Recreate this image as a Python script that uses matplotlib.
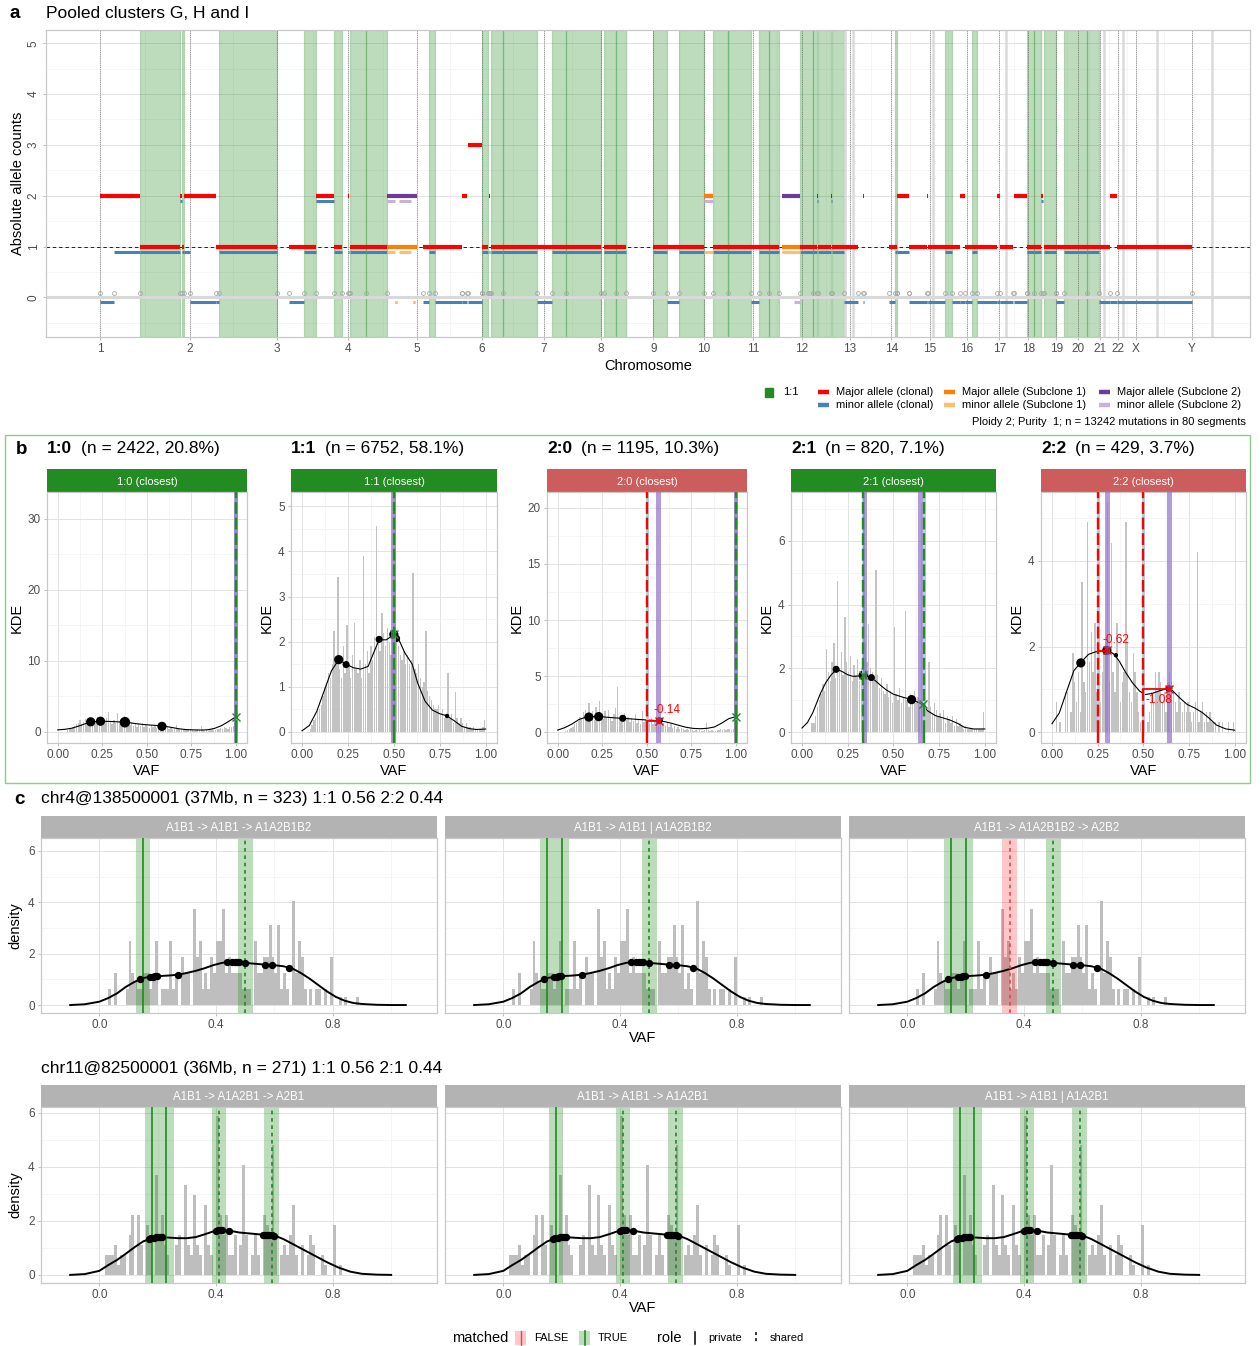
import numpy as np
import matplotlib
matplotlib.use("Agg")
import matplotlib.pyplot as plt
from matplotlib.patches import Rectangle

plt.rcParams["font.family"] = ["Liberation Sans", "DejaVu Sans"]

# ======================= data =======================
# --- panel a: genome-wide copy number (positions in Mb) ---
chrom_names = ["1", "2", "3", "4", "5", "6", "7", "8", "9", "10", "11", "12",
               "13", "14", "15", "16", "17", "18", "19", "20", "21", "22", "X", "Y"]
chrom_len = [249, 243, 198, 191, 181, 171, 159, 146, 141, 136, 135, 134,
             115, 107, 103, 90, 81, 78, 59, 63, 48, 51, 155, 59]

seg_start = [0, 40, 110, 223, 228, 234, 249, 322, 332, 525, 567, 600, 649, 690, 694, 740,
             899, 914, 930, 1006, 1022, 1062, 1080, 1086, 1119, 1215, 1257, 1295, 1401, 1434,
             1538, 1576, 1610, 1703, 1744, 1810, 1832, 1860, 1946, 1981, 1993, 1995, 2032, 2034,
             2069, 2121, 2194, 2209, 2216, 2249, 2298, 2300, 2347, 2369, 2390, 2403, 2424, 2437,
             2494, 2501, 2540, 2576, 2595, 2614, 2624, 2658, 2679, 2743, 2775, 2808, 2827]
seg_end = [40, 110, 223, 228, 234, 249, 322, 332, 492, 567, 600, 649, 673, 693, 740, 797,
           914, 930, 1005, 1020, 1061, 1079, 1085, 1119, 1215, 1257, 1295, 1392, 1434, 1462,
           1576, 1610, 1678, 1744, 1810, 1832, 1860, 1886, 1981, 1993, 1995, 2032, 2034, 2069,
           2107, 2123, 2209, 2215, 2248, 2298, 2300, 2347, 2369, 2390, 2403, 2424, 2437, 2494,
           2501, 2538, 2575, 2595, 2614, 2621, 2656, 2679, 2743, 2775, 2808, 2827, 3034]
seg_major = [2, 2, 1, 2, 1, 2, 2, 1, 1, 1, 1, 2, 1, 2, 1, 1,
             1, 1, 1, 2, 3, 1, 2, 1, 1, 1, 1, 1, 1, 1,
             1, 1, 1, 1, 1, 1, 1, 1, 1, 1, 2, 1, 2, 1,
             1, 2, 1, 1, 2, 1, 2, 1, 1, 1, 2, 1, 1, 1,
             2, 1, 2, 1, 1, 2, 1, 1, 1, 1, 1, 2, 1]
seg_minor = [0, 1, 1, 2, 1, 1, 0, 0, 1, 0, 1, 2, 1, 1, 1, 1,
             0, 1, 0, 0, 0, 1, 1, 1, 1, 0, 1, 1, 1, 1,
             1, 0, 1, 1, 1, 0, 1, 1, 1, 1, 2, 1, 2, 1,
             0, 0, 0, 1, 1, 0, 0, 0, 1, 0, 0, 0, 1, 0,
             0, 0, 0, 1, 1, 2, 1, 0, 1, 1, 0, 0, 0]

sub1_maj_start = [797, 1678, 1895]
sub1_maj_end = [880, 1703, 1946]
sub1_maj_cn = [1, 2, 1]
sub1_min_start = [797, 831, 821, 871, 1678, 1895]
sub1_min_end = [819, 865, 825, 875, 1703, 1946]
sub1_min_cn = [1, 1, 0, 0, 1, 1]
sub2_maj_start = [797, 1678, 1895]
sub2_maj_end = [880, 1703, 1946]
sub2_maj_cn = [2, 2, 2]
sub2_min_start = [797, 831, 821, 871, 1678, 1895, 1929]
sub2_min_end = [819, 865, 825, 875, 1703, 1929, 1946]
sub2_min_cn = [2, 2, 0, 0, 2, 1, 0]

other_breaks = [2071, 2092, 2316, 2517, 2789, 2842, 2937, 3091]

# --- panel b: VAF histograms (density, 0.01 bins), KDE readings, peaks ---
b_labels = ["1:0", "1:1", "2:0", "2:1", "2:2"]
b_n = [2422, 6752, 1195, 820, 429]
b_pct = [20.8, 58.1, 10.3, 7.1, 3.7]
b_closest_ok = [True, True, False, True, False]

b1_hist = [0, 0, 0, 0, 0, 0.2, 0.3, 0.4, 0.6, 0.8,
           1.0, 1.2, 1.6, 1.0, 1.3, 1.8, 1.1, 1.5, 1.9, 1.2,
           1.6, 1.4, 2.0, 1.3, 1.7, 1.2, 1.5, 1.9, 2.7, 1.3,
           1.1, 1.6, 1.2, 2.6, 1.0, 1.4, 1.2, 2.2, 1.5, 1.1,
           0.9, 1.3, 0.8, 1.1, 0.7, 1.0, 0.8, 1.2, 0.6, 0.9,
           0.7, 0.5, 0.9, 0.6, 0.8, 0.5, 0.7, 1.3, 0.5, 0.6,
           0.4, 0.6, 0.3, 0.5, 0.4, 0.3, 0.9, 0.4, 0.3, 0.2,
           0.3, 0.2, 0.4, 0.2, 0.3, 0.2, 0.1, 0.2, 0.3, 0.2,
           0.8, 0.2, 0.1, 0.2, 0.1, 0.2, 0.3, 0.2, 0.2, 0.3,
           0.4, 0.5, 0.3, 0.6, 0.5, 0.4, 0.7, 0.6, 0.8, 32.2]
b2_hist = [0, 0, 0, 0, 0.05, 0.15, 0.25, 0.3, 0.45, 0.5,
           0.6, 0.8, 1.0, 1.1, 1.3, 1.2, 1.5, 2.24, 1.6, 3.43,
           1.4, 1.2, 1.9, 1.3, 2.36, 1.5, 1.2, 1.7, 2.41, 1.4,
           1.3, 1.6, 1.2, 3.9, 1.5, 1.8, 1.3, 1.9, 1.6, 2.1,
           4.57, 2.0, 1.8, 2.64, 2.2, 1.9, 2.3, 2.0, 1.7, 2.1,
           5.07, 2.0, 1.9, 1.7, 1.6, 1.8, 1.5, 1.7, 1.5, 1.6,
           3.53, 1.4, 1.3, 1.5, 1.2, 1.0, 1.1, 2.24, 0.9, 0.8,
           0.7, 0.6, 0.5, 0.5, 0.6, 0.4, 0.5, 0.3, 0.4, 1.3,
           0.3, 0.4, 0.2, 0.89, 0.3, 0.2, 0.3, 0.2, 0.1, 0.2,
           0.1, 0.1, 0.05, 0.1, 0.05, 0.05, 0.05, 0.05, 0.1, 0.26]
b3_hist = [0, 0, 0, 0, 0.1, 0.2, 0.3, 0.4, 0.5, 0.7,
           0.8, 1.0, 1.4, 1.2, 1.8, 2.0, 1.3, 2.6, 1.5, 1.9,
           1.1, 2.3, 1.4, 2.8, 1.6, 1.2, 1.9, 1.4, 2.0, 1.3,
           1.0, 1.6, 2.2, 4.0, 1.2, 1.5, 0.9, 1.7, 1.1, 1.4,
           0.9, 1.3, 1.0, 1.6, 0.8, 1.2, 0.7, 1.9, 0.9, 1.1,
           1.0, 0.8, 1.3, 0.7, 1.1, 0.9, 0.6, 1.0, 0.7, 0.8,
           0.6, 0.9, 0.5, 0.7, 0.4, 0.6, 0.3, 0.5, 0.3, 0.4,
           0.3, 0.2, 0.3, 0.2, 0.3, 0.2, 0.1, 0.2, 0.1, 0.2,
           0.1, 0.1, 0.2, 0.8, 0.2, 0.1, 0.2, 0.1, 0.1, 0.2,
           0.2, 0.3, 0.2, 0.3, 0.2, 0.3, 0.3, 0.2, 0.3, 20.4]
b4_hist = [0, 0, 0, 0, 0, 0.3, 0.3, 0.5, 0.8, 1.0,
           1.2, 1.5, 1.3, 2.6, 1.9, 1.6, 2.2, 2.8, 1.7, 4.75,
           2.0, 2.5, 1.8, 3.6, 2.2, 1.9, 2.4, 1.6, 2.1, 1.8,
           2.3, 1.6, 2.0, 3.7, 2.8, 2.2, 3.4, 2.0, 1.9, 1.6,
           5.1, 1.8, 1.4, 1.7, 1.3, 1.2, 1.5, 1.1, 1.3, 0.9,
           3.3, 1.2, 1.0, 1.4, 0.9, 1.1, 3.8, 1.0, 0.8, 1.2,
           1.0, 1.3, 0.9, 1.1, 0.8, 7.17, 1.2, 0.9, 0.7, 2.2,
           0.8, 0.6, 0.9, 0.7, 0.5, 0.6, 0.4, 0.7, 0.3, 0.5,
           0.4, 0.3, 0.5, 0.2, 0.4, 0.2, 0.3, 0.2, 0.1, 0.2,
           0.1, 0.1, 0.1, 0.1, 0.1, 0.1, 0.1, 0.1, 0.1, 0.63]
b5_hist = [0, 0, 0.7, 0, 0.23, 0, 0, 0.93, 0.93, 0,
           0.47, 1.86, 1.17, 0.7, 1.4, 0.47, 3.5, 1.17, 0.93, 4.9,
           1.63, 2.33, 1.4, 2.56, 0.93, 1.17, 0.7, 1.4, 1.86, 2.1,
           5.36, 1.17, 4.43, 1.4, 0.93, 2.56, 1.63, 0.7, 1.17, 1.4,
           4.9, 2.1, 0.93, 0.7, 1.86, 1.4, 0.93, 0.47, 0.23, 0,
           0, 0, 0.23, 0.47, 0.93, 0.7, 1.4, 0.93, 1.4, 1.17,
           0.7, 0.93, 0.47, 1.17, 1.4, 1.17, 0.93, 0.7, 0.47, 0.93,
           0.7, 0.47, 0.7, 0.47, 0.7, 0.47, 0.23, 0.47, 0.7, 4.2,
           0.23, 0.47, 0.7, 0.23, 0.47, 0.23, 0.47, 0.23, 0.23, 0.23,
           0, 0.23, 0, 0.23, 0, 0, 0.23, 0, 0, 0.23]

b1_kde_x = [0.00, 0.04, 0.08, 0.12, 0.16, 0.20, 0.24, 0.28, 0.32, 0.36, 0.40, 0.44, 0.48,
            0.52, 0.56, 0.60, 0.64, 0.68, 0.72, 0.76, 0.80, 0.84, 0.88, 0.92, 0.96, 1.00]
b1_kde_y = [0.24, 0.32, 0.48, 0.80, 1.15, 1.38, 1.46, 1.44, 1.40, 1.34, 1.25, 1.12, 1.00,
            0.92, 0.85, 0.76, 0.58, 0.40, 0.28, 0.24, 0.22, 0.25, 0.45, 0.85, 1.45, 2.10]
b2_kde_x = [0.00, 0.04, 0.08, 0.12, 0.16, 0.20, 0.24, 0.28, 0.32, 0.36, 0.39, 0.42, 0.46,
            0.50, 0.53, 0.56, 0.60, 0.63, 0.67, 0.71, 0.75, 0.79, 0.83, 0.87, 0.91, 0.95, 1.00]
b2_kde_y = [0.02, 0.14, 0.45, 0.90, 1.35, 1.60, 1.50, 1.42, 1.39, 1.45, 1.75, 2.04, 2.04,
            2.16, 2.02, 1.75, 1.50, 1.08, 0.68, 0.48, 0.40, 0.35, 0.24, 0.12, 0.07, 0.05, 0.06]
b3_kde_x = [0.00, 0.04, 0.08, 0.12, 0.16, 0.20, 0.24, 0.28, 0.32, 0.36, 0.40, 0.44, 0.48,
            0.52, 0.56, 0.60, 0.64, 0.68, 0.72, 0.76, 0.80, 0.84, 0.88, 0.92, 0.96, 1.00]
b3_kde_y = [0.20, 0.42, 0.74, 1.15, 1.36, 1.40, 1.40, 1.34, 1.29, 1.25, 1.21, 1.16, 1.12,
            1.08, 1.04, 0.95, 0.80, 0.62, 0.45, 0.35, 0.32, 0.36, 0.48, 0.82, 1.22, 1.40]
b4_kde_x = [0.00, 0.03, 0.06, 0.10, 0.13, 0.16, 0.19, 0.22, 0.25, 0.28, 0.31, 0.34, 0.37, 0.40,
            0.43, 0.46, 0.50, 0.55, 0.60, 0.65, 0.69, 0.73, 0.77, 0.81, 0.85, 0.89, 0.94, 1.00]
b4_kde_y = [0.13, 0.30, 0.62, 1.20, 1.55, 1.80, 1.97, 1.90, 1.80, 1.75, 1.76, 1.78, 1.73, 1.62,
            1.47, 1.33, 1.19, 1.10, 1.02, 0.90, 0.66, 0.52, 0.45, 0.38, 0.28, 0.15, 0.10, 0.10]
b5_kde_x = [0.00, 0.04, 0.08, 0.12, 0.16, 0.20, 0.24, 0.28, 0.31, 0.34, 0.37, 0.40, 0.44, 0.48,
            0.51, 0.55, 0.59, 0.63, 0.66, 0.70, 0.74, 0.78, 0.82, 0.86, 0.90, 0.95, 1.00]
b5_kde_y = [0.20, 0.45, 0.95, 1.44, 1.64, 1.82, 1.88, 1.90, 1.91, 1.82, 1.65, 1.42, 1.16, 0.96,
            0.88, 0.91, 0.97, 1.02, 0.97, 0.80, 0.65, 0.57, 0.47, 0.33, 0.17, 0.08, 0.05]

b1_dot_x = [0.185, 0.24, 0.377, 0.585]
b1_dot_y = [1.38, 1.46, 1.32, 0.74]
b1_dot_w = [3, 3, 4, 3]
b2_dot_x = [0.20, 0.24, 0.42, 0.50, 0.515, 0.79]
b2_dot_y = [1.60, 1.49, 2.05, 2.16, 2.07, 0.35]
b2_dot_w = [3, 2, 2, 3, 2, 1]
b3_dot_x = [0.175, 0.23, 0.365, 0.57]
b3_dot_y = [1.36, 1.40, 1.25, 1.04]
b3_dot_w = [3, 3, 2, 2]
b4_dot_x = [0.187, 0.335, 0.38, 0.60]
b4_dot_y = [1.97, 1.78, 1.71, 1.02]
b4_dot_w = [2, 3, 2, 3]
b5_dot_x = [0.158, 0.30, 0.35, 0.64]
b5_dot_y = [1.62, 1.91, 1.80, 1.02]
b5_dot_w = [3, 3, 1, 2]

# expected VAF lines and whether each one was matched
b1_expected, b1_exp_ok = [1.0], [True]
b2_expected, b2_exp_ok = [0.5], [True]
b3_expected, b3_exp_ok = [0.5, 1.0], [False, True]
b4_expected, b4_exp_ok = [0.333, 0.667], [True, True]
b5_expected, b5_exp_ok = [0.25, 0.5], [False, False]
# observed peak positions (purple bands)
b1_peaks = [1.0]
b2_peaks = [0.5]
b3_peaks = [0.567, 1.0]
b4_peaks = [0.345, 0.65]
b5_peaks = [0.302, 0.642]
# closest-peak markers
b1_mark_x, b1_mark_y, b1_mark_ok = [1.0], [2.10], [True]
b2_mark_x, b2_mark_y, b2_mark_ok = [0.5], [2.16], [True]
b3_mark_x, b3_mark_y, b3_mark_ok = [0.57, 1.0], [1.04, 1.40], [False, True]
b4_mark_x, b4_mark_y, b4_mark_ok = [0.335, 0.66], [1.78, 0.88], [True, True]
b5_mark_x, b5_mark_y, b5_mark_ok = [0.30, 0.64], [1.91, 1.02], [False, False]
# shift from expected to observed peak (log-ratio labels)
b3_dev_from, b3_dev_to, b3_dev_y, b3_dev_lab = [0.5], [0.57], [1.04], ["-0.14"]
b5_dev_from, b5_dev_to, b5_dev_y, b5_dev_lab = [0.25, 0.5], [0.30, 0.64], [1.90, 1.02], ["-0.62", "-1.08"]

# --- panel c: two segments, three candidate histories each ---
c1_title = "chr4@138500001 (37Mb, n = 323) 1:1 0.56 2:2 0.44"
c2_title = "chr11@82500001 (36Mb, n = 271) 1:1 0.56 2:1 0.44"
c1_hist = [0, 0, 0, 0.62, 0, 1.24, 0, 0, 0, 0.62,
           2.48, 1.24, 0.93, 0.62, 0.62, 1.24, 1.24, 0.62, 1.24, 2.48,
           0, 0.62, 0.62, 0.62, 2.48, 0.62, 1.24, 0, 1.86, 1.24,
           1.24, 0, 3.72, 1.86, 2.48, 0.62, 1.24, 0.62, 1.86, 1.24,
           2.48, 2.48, 3.72, 1.24, 1.86, 1.24, 1.24, 1.24, 1.24, 0.62,
           0.62, 0.62, 0, 2.48, 1.24, 1.24, 1.86, 1.86, 3.1, 1.86,
           1.24, 3.1, 0.62, 1.24, 0.62, 0, 4.03, 1.24, 2.48, 1.86,
           0.62, 0, 0.62, 0, 0.62, 0.62, 0, 0.62, 0, 1.86,
           0, 0, 0.31, 0, 0.31, 0, 0, 0, 0.31, 0,
           0, 0, 0, 0, 0, 0, 0, 0, 0, 0]
c2_hist = [0, 0, 0.74, 0.74, 0.74, 1.11, 0.37, 0.74, 0.74, 0,
           1.48, 2.21, 0, 2.21, 1.11, 0, 1.85, 1.48, 0, 3.69,
           1.48, 2.21, 1.11, 0.74, 0, 0, 1.11, 1.48, 0, 3.32,
           1.11, 0.74, 2.95, 1.11, 0.74, 0, 2.58, 1.11, 0.74, 0,
           5.9, 2.21, 1.48, 2.21, 0.74, 0.74, 1.48, 0, 1.11, 4.06,
           1.48, 0, 0.74, 1.48, 0.74, 0, 2.21, 1.85, 1.48, 4.8,
           1.48, 0, 0.74, 1.11, 0.74, 1.48, 2.58, 0.74, 0, 1.11,
           0, 0.74, 1.48, 1.11, 0, 0, 0.74, 0.37, 0, 0,
           1.85, 0, 0.37, 0, 0, 0, 0, 0, 0, 0,
           0, 0, 0, 0, 0, 0, 0, 0, 0, 0]
c1_kde_x = [-0.10, -0.05, 0.00, 0.03, 0.06, 0.09, 0.12, 0.15, 0.18, 0.21, 0.24, 0.27, 0.30,
            0.33, 0.36, 0.39, 0.42, 0.45, 0.48, 0.51, 0.54, 0.57, 0.60, 0.63, 0.66, 0.69,
            0.72, 0.75, 0.78, 0.81, 0.84, 0.87, 0.90, 0.95, 1.00, 1.05]
c1_kde_y = [0.00, 0.03, 0.13, 0.27, 0.45, 0.70, 0.90, 1.05, 1.11, 1.13, 1.15, 1.18, 1.25,
            1.33, 1.43, 1.55, 1.64, 1.68, 1.67, 1.63, 1.60, 1.57, 1.55, 1.51, 1.43, 1.25,
            1.03, 0.78, 0.53, 0.32, 0.17, 0.08, 0.04, 0.01, 0.00, 0.00]
c2_kde_x = [-0.10, -0.05, 0.00, 0.03, 0.06, 0.09, 0.12, 0.15, 0.18, 0.21, 0.24, 0.27, 0.30,
            0.33, 0.36, 0.39, 0.42, 0.45, 0.48, 0.52, 0.56, 0.60, 0.63, 0.66, 0.70, 0.74,
            0.78, 0.82, 0.86, 0.90, 0.95, 1.00]
c2_kde_y = [0.00, 0.03, 0.15, 0.36, 0.55, 0.78, 1.02, 1.24, 1.36, 1.40, 1.38, 1.36, 1.36,
            1.40, 1.50, 1.61, 1.66, 1.63, 1.57, 1.53, 1.49, 1.46, 1.33, 1.16, 0.93, 0.70,
            0.47, 0.27, 0.12, 0.04, 0.01, 0.00]
c1_dot_x = [0.138, 0.175, 0.183, 0.19, 0.197, 0.268, 0.437, 0.455, 0.465, 0.472, 0.48,
            0.50, 0.567, 0.59, 0.65]
c1_dot_y = [1.00, 1.10, 1.11, 1.12, 1.12, 1.17, 1.67, 1.68, 1.68, 1.67, 1.67, 1.64, 1.57,
            1.56, 1.46]
c2_dot_x = [0.17, 0.178, 0.186, 0.194, 0.20, 0.207, 0.213, 0.398, 0.405, 0.412, 0.42,
            0.443, 0.56, 0.567, 0.574, 0.582, 0.59, 0.60]
c2_dot_y = [1.34, 1.36, 1.38, 1.39, 1.40, 1.40, 1.40, 1.62, 1.65, 1.66, 1.66, 1.63, 1.49,
            1.49, 1.48, 1.48, 1.47, 1.45]

c1_models = ["A1B1 -> A1B1 -> A1A2B1B2", "A1B1 -> A1B1 | A1A2B1B2", "A1B1 -> A1A2B1B2 -> A2B2"]
c2_models = ["A1B1 -> A1A2B1 -> A2B1", "A1B1 -> A1B1 -> A1A2B1", "A1B1 -> A1B1 | A1A2B1"]
# expected VAF per model: private / shared and matched flag
c1_private = [[0.15], [0.15, 0.20], [0.15, 0.20]]
c1_shared = [[0.50], [0.50], [0.35, 0.50]]
c1_shared_ok = [[True], [True], [False, True]]
c2_private = [[0.18, 0.23], [0.18], [0.18, 0.23]]
c2_shared = [[0.41, 0.59], [0.41, 0.59], [0.41, 0.59]]
c2_shared_ok = [[True, True], [True, True], [True, True]]

# ======================= layout helpers =======================
W, H = 1260, 1346
fig = plt.figure(figsize=(W / 100, H / 100), dpi=100)
fig.patch.set_facecolor("white")

overlay = fig.add_axes([0, 0, 1, 1])
overlay.set_xlim(0, W)
overlay.set_ylim(H, 0)
overlay.axis("off")


def box(l, t, r, b):
    return fig.add_axes([l / W, 1 - b / H, (r - l) / W, (b - t) / H])


def ftext(x, y, s, **kw):
    return fig.text(x / W, 1 - y / H, s, **kw)


TICK_C = "#4D4D4D"
RED, BLUE = "#FF0000", "#4682B4"
ORANGE, LORANGE = "#FF7F00", "#FDBF6F"
PURPLE, LPURPLE = "#6A3D9A", "#CAB2D6"
FOREST = "#228B22"
INDIAN = "#CD5C5C"
LBLUE = "#A6CEE3"
MPURPLE = "#8E6CCB"


def gg_style(ax, xt, xtl, xminor, yt, ytl, yminor, show_y=True, ysize=8.5):
    ax.set_xticks(xt)
    ax.set_xticklabels(xtl)
    ax.set_xticks(xminor, minor=True)
    ax.set_yticks(yt)
    ax.set_yticklabels(ytl if show_y else [])
    ax.set_yticks(yminor, minor=True)
    ax.grid(which="major", color="#E3E3E3", lw=0.7)
    ax.grid(which="minor", color="#F1F1F1", lw=0.5)
    ax.set_axisbelow(True)
    for s in ax.spines.values():
        s.set_color("#C8C8C8")
        s.set_linewidth(0.9)
    ax.tick_params(which="major", length=2.5, width=0.6, color="#B3B3B3",
                   labelsize=ysize, labelcolor=TICK_C, pad=2)
    ax.tick_params(which="minor", length=0)
    if not show_y:
        ax.tick_params(axis="y", left=False)


# ======================= panel a =======================
chrom_start = np.concatenate([[0], np.cumsum(chrom_len)[:-1]])
ax = box(46, 30, 1250, 337)
ax.set_xlim(-150, 3196)
ax.set_ylim(-0.78, 5.26)
mids = (chrom_start[:-1] + chrom_start[1:]) / 2
gg_style(ax, chrom_start, chrom_names, mids, range(6), [str(i) for i in range(6)],
         np.arange(-0.5, 5.0, 1.0))
for lab in ax.get_yticklabels():
    lab.set_rotation(90)
    lab.set_va("center")
ax.set_ylabel("Absolute allele counts", fontsize=10.5, labelpad=2)
ax.set_xlabel("Chromosome", fontsize=10.5, labelpad=3)

seg_start_a = np.array(seg_start)
seg_end_a = np.array(seg_end)
maj = np.array(seg_major)
mnr = np.array(seg_minor)

# balanced (1:1) segments shaded
for s, e, M, m in zip(seg_start_a, seg_end_a, maj, mnr):
    if M == 1 and m == 1:
        ax.axvspan(s, e, facecolor=(0.133, 0.545, 0.133, 0.3),
                   edgecolor=(0.133, 0.545, 0.133, 0.25), lw=0.9, zorder=1)

for xb in other_breaks:
    ax.axvline(xb, color="#DADADA", lw=1.8, zorder=1.2)
for xs in chrom_start:
    ax.axvline(xs, color="#6E6E6E", lw=0.55, ls=(0, (1.2, 1.6)), zorder=1.3)

ax.axhline(0, color="#D9D9D9", lw=2.2, zorder=1.4)
ax.axhline(1, color="#222222", lw=0.7, ls=(0, (3.5, 3)), zorder=1.5)


def seg_lines(starts, ends, ys, color, lw, z):
    lc = ax.hlines(ys, starts, ends, colors=color, lw=lw, zorder=z)
    lc.set_capstyle("butt")


seg_lines(seg_start_a, seg_end_a, mnr - 0.1, BLUE, 2.2, 3)
seg_lines(seg_start_a, seg_end_a, maj, RED, 3.0, 3.1)
seg_lines(sub2_min_start, sub2_min_end, np.array(sub2_min_cn) - 0.1, LPURPLE, 2.2, 3.2)
seg_lines(sub2_maj_start, sub2_maj_end, sub2_maj_cn, PURPLE, 3.0, 3.3)
seg_lines(sub1_min_start, sub1_min_end, np.array(sub1_min_cn) - 0.1, LORANGE, 2.2, 3.4)
seg_lines(sub1_maj_start, sub1_maj_end, sub1_maj_cn, ORANGE, 3.0, 3.5)

bps = np.unique(np.concatenate([seg_start_a, seg_end_a]))
ax.plot(bps, np.full(len(bps), 0.085), "o", ms=2.8, mfc="none", mec="#A8A8A8",
        mew=0.6, zorder=4)

ftext(10, 13, "a", fontsize=13.5, fontweight="bold", va="center")
ftext(46, 13, "Pooled clusters G, H and I", fontsize=12.5, va="center")

# legend of panel a
overlay.add_patch(Rectangle((765, 388), 8, 9, color=FOREST))
ftext(783, 392, "1:1", fontsize=8, va="center")
leg_items = [(818, 392, RED, "Major allele (clonal)"), (818, 405, BLUE, "minor allele (clonal)"),
             (944, 392, ORANGE, "Major allele (Subclone 1)"), (944, 405, LORANGE, "minor allele (Subclone 1)"),
             (1099, 392, PURPLE, "Major allele (Subclone 2)"), (1099, 405, LPURPLE, "minor allele (Subclone 2)")]
for x0, y0, col, lab in leg_items:
    overlay.plot([x0, x0 + 11], [y0, y0], color=col, lw=3.2, solid_capstyle="butt")
    ftext(x0 + 18, y0, lab, fontsize=8, va="center")
ftext(1246, 422, "Ploidy 2; Purity  1; n = 13242 mutations in 80 segments",
      fontsize=8, ha="right", va="center")

# ======================= panel b =======================
overlay.add_patch(Rectangle((5, 435), 1245, 348, fill=False, ec="#8CCB8C", lw=1.0))
ftext(16, 450, "b", fontsize=13.5, fontweight="bold", va="center")

bin_edges = np.linspace(0, 1, 101)
bin_mid = (bin_edges[:-1] + bin_edges[1:]) / 2

b_panels = [
    (b1_hist, b1_kde_x, b1_kde_y, b1_dot_x, b1_dot_y, b1_dot_w, b1_expected, b1_exp_ok,
     b1_peaks, b1_mark_x, b1_mark_y, b1_mark_ok, [], [], [], []),
    (b2_hist, b2_kde_x, b2_kde_y, b2_dot_x, b2_dot_y, b2_dot_w, b2_expected, b2_exp_ok,
     b2_peaks, b2_mark_x, b2_mark_y, b2_mark_ok, [], [], [], []),
    (b3_hist, b3_kde_x, b3_kde_y, b3_dot_x, b3_dot_y, b3_dot_w, b3_expected, b3_exp_ok,
     b3_peaks, b3_mark_x, b3_mark_y, b3_mark_ok, b3_dev_from, b3_dev_to, b3_dev_y, b3_dev_lab),
    (b4_hist, b4_kde_x, b4_kde_y, b4_dot_x, b4_dot_y, b4_dot_w, b4_expected, b4_exp_ok,
     b4_peaks, b4_mark_x, b4_mark_y, b4_mark_ok, [], [], [], []),
    (b5_hist, b5_kde_x, b5_kde_y, b5_dot_x, b5_dot_y, b5_dot_w, b5_expected, b5_exp_ok,
     b5_peaks, b5_mark_x, b5_mark_y, b5_mark_ok, b5_dev_from, b5_dev_to, b5_dev_y, b5_dev_lab),
]
b_lr = [(47, 247), (291, 497), (547, 747), (791, 996), (1041, 1246)]
b_ylim = [(-1.61, 33.8), (-0.25, 5.32), (-0.95, 21.4), (-0.34, 7.53), (-0.25, 5.61)]
b_yt = [[0, 10, 20, 30], [0, 1, 2, 3, 4, 5], [0, 5, 10, 15, 20], [0, 2, 4, 6], [0, 2, 4]]
b_ymin = [[5, 15, 25], np.arange(0.5, 5.5, 1), [2.5, 7.5, 12.5, 17.5], [1, 3, 5, 7], [1, 3, 5]]
dot_area = {1: 10, 2: 26, 3: 44, 4: 58}
dev_dir = {"-0.14": 1, "-0.62": 1, "-1.08": -1}
dev_tx = {"-0.14": 0.54, "-0.62": 0.275, "-1.08": 0.51}

renderer = fig.canvas.get_renderer()
for i, (hist, kx, ky, dx, dy, dw, expv, expok, peaks, mx, my, mok,
        dfrom, dto, dyy, dlab) in enumerate(b_panels):
    l, r = b_lr[i]
    # title: bold state + counts
    t1 = ftext(l, 449, b_labels[i], fontsize=12.5, fontweight="bold", va="center")
    wbb = t1.get_window_extent(renderer=renderer).width
    ftext(l + wbb + 9, 449, f"(n = {b_n[i]}, {b_pct[i]}%)", fontsize=12.5, va="center")
    # strip
    sax = box(l, 469, r, 492)
    sax.set_facecolor(FOREST if b_closest_ok[i] else INDIAN)
    sax.set_xticks([])
    sax.set_yticks([])
    for s in sax.spines.values():
        s.set_visible(False)
    sax.text(0.5, 0.45, f"{b_labels[i]} (closest)", color="white", fontsize=8,
             ha="center", va="center", transform=sax.transAxes)

    ax = box(l, 492, r, 743)
    ax.set_xlim(-0.06, 1.062)
    y0, y1 = b_ylim[i]
    ax.set_ylim(y0, y1)
    gg_style(ax, [0, 0.25, 0.5, 0.75, 1.0], ["0.00", "0.25", "0.50", "0.75", "1.00"],
             [0.125, 0.375, 0.625, 0.875], b_yt[i], [str(v) for v in b_yt[i]], b_ymin[i])
    ax.set_xlabel("VAF", fontsize=10.5, labelpad=2)
    ax.set_ylabel("KDE", fontsize=10.5, labelpad=3)

    ax.bar(bin_mid, hist, width=0.0075, color="#C3C3C3", lw=0, zorder=1)
    ax.plot(kx, ky, color="black", lw=0.8, zorder=2)
    ax.scatter(dx, dy, s=[dot_area[w] for w in dw], color="black", lw=0, zorder=3)
    for xv in expv:
        ax.plot([xv, xv], [0, y1], color=LBLUE, lw=2.0, zorder=4, solid_capstyle="butt")
    for pv in peaks:
        ax.axvspan(pv - 0.0135, pv + 0.0135, color=MPURPLE, alpha=0.68, lw=0, zorder=5)
    for xv, ok in zip(expv, expok):
        col = FOREST if ok else RED
        ax.plot([xv, xv], [0, y1], color=col, lw=1.7, dashes=(5.0, 1.6), zorder=6)
        ax.plot([xv, xv], [y0, 0], color=col, lw=1.7, zorder=6, solid_capstyle="butt")
    for a0, a1, yy, lab in zip(dfrom, dto, dyy, dlab):
        ax.plot([a0, a1], [yy, yy], color=RED, lw=1.3, zorder=7)
        ax.annotate(lab, (dev_tx[lab], yy), xytext=(0, 8 * dev_dir[lab]),
                    textcoords="offset points", color=RED, fontsize=8.5,
                    ha="left", va="center", zorder=8)
    for xv, yv, ok in zip(mx, my, mok):
        ax.plot(xv, yv, marker="x", ms=5.5, mew=1.0, color=FOREST if ok else RED,
                zorder=8, ls="none")

# ======================= panel c =======================
ftext(14, 800, "c", fontsize=13.5, fontweight="bold", va="center")
c_lr = [(41, 437), (445, 841), (849, 1245)]
c_rows = [
    (c1_title, 798, 816, 838, 1013, (-0.31, 6.5), c1_hist, c1_kde_x, c1_kde_y,
     c1_dot_x, c1_dot_y, c1_models, c1_private, c1_shared, c1_shared_ok, 1038),
    (c2_title, 1068, 1085, 1107, 1283, (-0.30, 6.22), c2_hist, c2_kde_x, c2_kde_y,
     c2_dot_x, c2_dot_y, c2_models, c2_private, c2_shared, c2_shared_ok, 1308),
]
GREEN_LINE = "#1F8A1F"
for (title, ty, st, pt, pb, ylim, hist, kx, ky, dx, dy, models, priv, shar, shar_ok,
     xl_y) in c_rows:
    ftext(41, ty, title, fontsize=12.5, va="center")
    for j, (l, r) in enumerate(c_lr):
        sax = box(l, st, r, pt)
        sax.set_facecolor("#B3B3B3")
        sax.set_xticks([])
        sax.set_yticks([])
        for s in sax.spines.values():
            s.set_visible(False)
        sax.text(0.5, 0.47, models[j], color="white", fontsize=8.3, ha="center",
                 va="center", transform=sax.transAxes)
        ax = box(l, pt, r, pb)
        ax.set_xlim(-0.163, 1.157)
        ax.set_ylim(*ylim)
        gg_style(ax, [0.0, 0.4, 0.8], ["0.0", "0.4", "0.8"], [-0.2, 0.2, 0.6, 1.0],
                 [0, 2, 4, 6], ["0", "2", "4", "6"], [1, 3, 5], show_y=(j == 0))
        if j == 0:
            ax.set_ylabel("density", fontsize=10.5, labelpad=4)
        ax.bar(bin_mid, hist, width=0.01, color="#BEBEBE", lw=0, zorder=1)
        for xv in priv[j]:
            ax.axvspan(xv - 0.025, xv + 0.025, color=FOREST, alpha=0.3, lw=0, zorder=2)
        for xv, ok in zip(shar[j], shar_ok[j]):
            ax.axvspan(xv - 0.025, xv + 0.025, color=FOREST if ok else RED,
                       alpha=0.3 if ok else 0.22, lw=0, zorder=2)
        ax.plot(kx, ky, color="black", lw=1.4, zorder=3)
        for xv in priv[j]:
            ax.axvline(xv, color=GREEN_LINE, lw=1.2, zorder=4)
        for xv, ok in zip(shar[j], shar_ok[j]):
            ax.axvline(xv, color=GREEN_LINE if ok else "#E04848", lw=1.2,
                       ls=(0, (2.2, 2.2)), zorder=4)
        ax.scatter(dx, dy, s=28, color="black", lw=0, zorder=5)
    ftext(643, xl_y, "VAF", fontsize=10.5, ha="center", va="center")

# bottom legend
ftext(452, 1338, "matched", fontsize=10.5, va="center")
overlay.add_patch(Rectangle((515, 1331), 11, 14, color=RED, alpha=0.22, lw=0))
overlay.plot([520.5, 520.5], [1331, 1345], color="#E04848", lw=1.0)
ftext(534, 1338, "FALSE", fontsize=8, va="center")
overlay.add_patch(Rectangle((579, 1331), 11, 14, color=FOREST, alpha=0.3, lw=0))
overlay.plot([584.5, 584.5], [1331, 1345], color=GREEN_LINE, lw=1.2)
ftext(598, 1338, "TRUE", fontsize=8, va="center")
ftext(657, 1338, "role", fontsize=10.5, va="center")
overlay.plot([695, 695], [1332, 1344], color="black", lw=1.1)
ftext(708, 1338, "private", fontsize=8, va="center")
overlay.plot([756, 756], [1332, 1344], color="black", lw=1.1, ls=(0, (2, 2)))
ftext(770, 1338, "shared", fontsize=8, va="center")

fig.savefig("out.png", dpi=100, facecolor="white")
